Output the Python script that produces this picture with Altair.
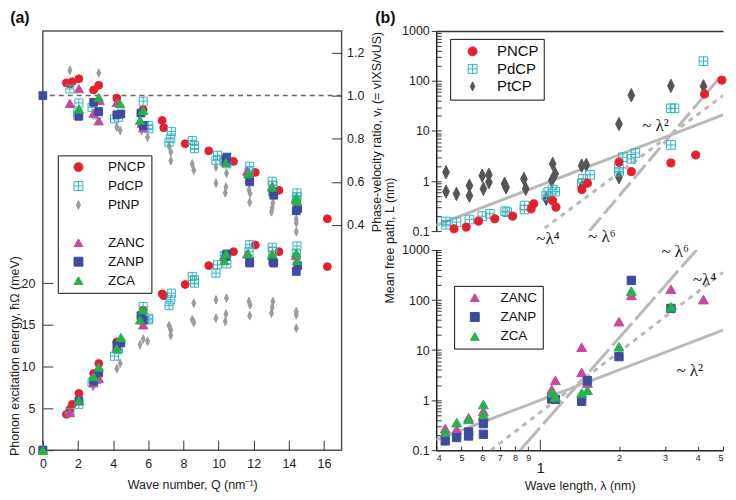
import altair as alt
import pandas as pd

FONT = "Liberation Sans"
SERIF = "Liberation Serif"
INK = "#222222"

# ---------------- panel (a): energy (meV) and phase-velocity ratio vs Q (nm^-1) -------------
pncp_Q = [1.34, 1.54, 1.68, 2.05, 2.89, 3.18, 4.21, 5.71, 6.79, 6.88, 8.10, 9.44, 10.85, 12.09, 13.44, 16.19]
pncp_E = [4.29, 4.89, 5.49, 6.80, 9.18, 10.38, 12.96, 16.7, 18.72, 18.49, 19.84, 22.1, 23.77, 24.57, 23.77, 21.98]
pncp_vr = [1.059, 1.054, 1.065, 1.078, 1.026, 1.048, 0.988, 0.935, 0.885, 0.851, 0.777, 0.744, 0.695, 0.644, 0.561, 0.429]

pdcp_QE = [0, 1.54, 2.05, 2.80, 3.08, 4.08, 4.30, 5.71, 6.00, 6.03, 7.18, 7.28, 7.31, 8.50, 8.63, 8.63,
           9.85, 9.94, 10.32, 10.47, 11.73, 11.77, 13.05, 13.09, 14.42, 14.46]
pdcp_E = [0, 4.5, 5.49, 8.07, 8.47, 11.25, 12.05, 17.2, 15.6, 15.8, 17.3, 18.0, 18.8, 20.8, 20.4, 20.0,
          21.2, 22.2, 23.3, 22.3, 23.8, 24.6, 24.3, 23.8, 23.6, 24.45]
pdcp_Qv = [1.54, 1.99, 1.99, 2.05, 2.80, 3.08, 4.08, 4.30, 5.71, 6.00, 6.03, 7.18, 7.28, 7.31, 8.50, 8.63,
           8.63, 9.85, 9.94, 10.32, 10.47, 11.73, 11.77, 13.05, 13.09, 14.42, 14.46, 14.46]
pdcp_vr = [1.031, 0.920, 0.908, 0.966, 0.946, 0.911, 0.892, 0.900, 0.974, 0.861, 0.846, 0.784, 0.803, 0.834,
           0.792, 0.769, 0.754, 0.700, 0.723, 0.695, 0.684, 0.646, 0.672, 0.603, 0.584, 0.518, 0.549, 0.530]

ptnp_QE = [2.86, 4.21, 4.40, 5.53, 5.71, 5.96, 7.18, 7.28, 7.28, 8.50, 8.59, 8.59, 9.85, 9.85, 10.38, 10.42,
           10.45, 11.73, 11.77, 11.79, 13.01, 13.05, 13.09, 14.42, 14.42, 14.42]
ptnp_E = [7.6, 9.74, 10.4, 12.64, 13.3, 13.04, 14.9, 14.4, 13.75, 15.62, 15.3, 17.6, 15.8, 18.0, 15.4, 16.3,
          18.2, 17.8, 16.1, 17.4, 16.4, 17.1, 17.8, 16.6, 16.2, 14.6]
ptnp_Qv = [1.54, 3.18, 4.21, 4.40, 5.62, 5.96, 7.18, 7.28, 7.28, 8.50, 8.59, 9.85, 9.85, 10.38, 10.42, 10.45,
           11.73, 11.77, 11.79, 13.01, 13.05, 13.09, 14.42, 14.42, 14.42]
ptnp_vr = [1.117, 1.105, 0.854, 0.838, 0.838, 0.807, 0.766, 0.738, 0.698, 0.683, 0.654, 0.669, 0.594, 0.549,
           0.576, 0.640, 0.563, 0.505, 0.546, 0.461, 0.480, 0.503, 0.428, 0.410, 0.369]

zanc_QE = [0, 1.54, 2.05, 2.89, 3.18, 4.21, 5.71, 5.71, 10.32, 10.40, 11.63, 13.05, 14.40]
zanc_E = [0, 4.5, 5.9, 8.07, 8.6, 12.4, 15.0, 15.6, 23.2, 23.5, 23.5, 23.3, 23.3]
zanc_Qv = [1.54, 2.05, 2.89, 3.18, 3.23, 4.21, 5.62, 5.71, 10.40, 11.63, 13.05, 14.40]
zanc_vr = [0.964, 1.032, 0.918, 0.883, 0.977, 0.968, 0.872, 0.851, 0.700, 0.650, 0.580, 0.520]

zanp_Q = [0, 2.05, 2.89, 3.18, 4.21, 4.44, 5.58, 5.71, 10.42, 10.47, 11.77, 11.77, 13.09, 13.14, 14.42, 14.50]
zanp_E = [0, 5.9, 8.27, 9.26, 12.64, 12.84, 16.1, 15.6, 23.2, 23.5, 22.6, 22.4, 22.6, 22.4, 21.4, 22.1]
zanp_vr = [1.0, 0.904, 0.969, 0.926, 0.911, 0.915, 0.919, 0.861, 0.703, 0.715, 0.607, 0.600, 0.553, 0.538,
           0.466, 0.477]

zca_QE = [0, 2.05, 2.89, 3.18, 4.21, 4.44, 5.53, 5.71, 10.32, 10.42, 11.69, 13.05, 14.42, 14.46]
zca_E = [0, 5.96, 8.79, 9.94, 12.16, 13.5, 15.6, 16.8, 22.7, 23.5, 23.5, 23.5, 23.6, 22.7]
zca_Qv = [2.05, 3.18, 4.40, 5.53, 5.71, 10.42, 11.69, 13.05, 14.42, 14.46]
zca_vr = [0.938, 0.992, 0.962, 0.886, 0.931, 0.689, 0.638, 0.576, 0.527, 0.510]

# ---------------- panel (b): mean free path L (nm) vs wavelength (nm) ----------------
pncp_lam = [0.468, 0.521, 0.58, 0.67, 0.784, 0.923, 0.944, 1.115, 1.148, 1.443, 1.515, 2.0, 2.23, 3.16,
            3.93, 4.25, 4.95]
pncp_L = [0.111, 0.12, 0.158, 0.176, 0.199, 0.278, 0.35, 0.407, 0.301, 0.675, 0.906, 2.38, 1.54, 2.3,
          3.32, 54.7, 104]
pdcp_lam = [0.436, 0.436, 0.478, 0.536, 0.6, 0.641, 0.734, 0.747, 0.871, 0.871, 1.054, 1.073, 1.115, 1.14,
            1.443, 1.458, 1.55, 2.0, 2.0, 2.07, 2.23, 2.31, 3.16, 3.16, 3.26, 4.21]
pdcp_L = [0.155, 0.134, 0.151, 0.170, 0.199, 0.221, 0.25, 0.239, 0.324, 0.27, 0.513, 0.6, 0.676, 0.616,
          0.906, 1.1, 1.33, 1.75, 1.54, 2.99, 2.77, 3.64, 5.26, 28.4, 28.4, 249]
ptcp_lam = [0.436, 0.436, 0.478, 0.536, 0.536, 0.6, 0.606, 0.636, 0.636, 0.73, 0.74, 0.866, 0.88, 1.054,
            1.106, 1.116, 1.14, 1.44, 1.44, 1.5, 2.0, 2.0, 2.23, 3.16, 4.21]
ptcp_L = [1.5, 0.616, 0.555, 0.81, 0.51, 1.28, 0.70, 1.33, 0.95, 0.88, 0.75, 1.1, 0.70, 0.44, 1.02, 2.2,
          1.39, 2.03, 0.75, 2.1, 1.19, 13.8, 52, 80, 78]

zanc_lam = [0.433, 0.479, 0.532, 0.606, 0.606, 1.106, 1.143, 1.44, 1.44, 1.515, 2.0, 2.23, 3.16, 4.21]
zanc_L = [0.27, 0.26, 0.445, 0.6, 0.48, 1.62, 2.48, 11.4, 3.58, 2.2, 37.0, 124, 164, 102]
zanp_lam = [0.433, 0.479, 0.532, 0.532, 0.606, 0.606, 1.106, 1.143, 1.44, 1.515, 2.0, 2.23, 3.16]
zanp_L = [0.153, 0.179, 0.192, 0.231, 0.339, 0.208, 1.06, 1.03, 0.95, 2.45, 7.4, 247, 68]
zca_lam = [0.433, 0.479, 0.532, 0.606, 0.606, 1.106, 1.143, 1.44, 1.515, 2.0, 2.23, 3.16]
zca_L = [0.231, 0.355, 0.412, 0.818, 0.518, 1.40, 1.16, 1.39, 1.57, 11.7, 151, 73]

# guide lines (end points)
top_l2 = ([0.4, 5.0], [0.13, 21])
top_l4 = ([1.04, 5.0], [0.115, 51])
top_l6 = ([1.54, 5.0], [0.1, 140])
bot_l2 = ([0.4, 5.0], [0.16, 25])
bot_l4 = ([0.647, 5.0], [0.1, 356])
bot_l6 = ([0.838, 3.96], [0.1, 1000])
top_labels = (["~ λ²", "~λ⁴", "~ λ⁶"], [2.76, 1.07, 1.72], [12.6, 0.07, 0.077])
bot_labels = (["~ λ⁶", "~λ⁴", "~ λ²"], [3.28, 4.25, 3.73], [929, 247, 3.86])
panel_tags = ["(a)", "(b)"]

# ---------------- styles ----------------
BOXPLUS = "M-1,-1H1V1H-1Z M0,-1V1 M-1,0H1"
DIAM_S = "M0,-1L0.45,0L0,1L-0.45,0Z"
DIAM_L = "M0,-1L0.5,0L0,1L-0.5,0Z"
RED, CYAN, GREY, DGREY = "#e5202e", "#35b3bf", "#9b9b9b", "#555555"
MAG, NAVY, GREEN = "#c9489d", "#3f4b9f", "#27b14c"
CLEAR = "rgba(0,0,0,0)"
LINE = "#bdb8b8"

A_DOM = ["PNCP", "PdCP", "PtNP", " ", "ZANC", "ZANP", "ZCA"]
A_FILL = [RED, CLEAR, GREY, CLEAR, MAG, NAVY, GREEN]
A_STROKE = [RED, CYAN, GREY, CLEAR, MAG, NAVY, GREEN]
A_SHAPE = ["circle", BOXPLUS, DIAM_S, "circle", "triangle-up", "square", "triangle-up"]
A_SIZE = {"PNCP": 62, "PdCP": 66, "PtNP": 75, "ZANC": 88, "ZANP": 60, "ZCA": 88}

BT_DOM = ["PNCP", "PdCP", "PtCP"]
BT_FILL = [RED, CLEAR, DGREY]
BT_STROKE = [RED, CYAN, DGREY]
BT_SHAPE = ["circle", BOXPLUS, DIAM_L]
BT_SIZE = {"PNCP": 66, "PdCP": 76, "PtCP": 180}

BB_DOM = ["ZANC", "ZANP", "ZCA"]
BB_FILL = [MAG, NAVY, GREEN]
BB_STROKE = [MAG, NAVY, GREEN]
BB_SHAPE = ["triangle-up", "square", "triangle-up"]
BB_SIZE = {"ZANC": 100, "ZANP": 70, "ZCA": 100}


def long_df(parts, xname, yname, sizes):
    rows = []
    for name, xs, ys in parts:
        for xv, yv in zip(xs, ys):
            rows.append({"series": name, xname: xv, yname: yv, "sz": sizes[name]})
    return pd.DataFrame(rows)


dfA_E = long_df([("PtNP", ptnp_QE, ptnp_E), ("PNCP", pncp_Q, pncp_E), ("PdCP", pdcp_QE, pdcp_E),
                 ("ZANC", zanc_QE, zanc_E), ("ZANP", zanp_Q, zanp_E), ("ZCA", zca_QE, zca_E)],
                "Q", "E", A_SIZE)
dfA_v = long_df([("PtNP", ptnp_Qv, ptnp_vr), ("PNCP", pncp_Q, pncp_vr), ("PdCP", pdcp_Qv, pdcp_vr),
                 ("ZANC", zanc_Qv, zanc_vr), ("ZANP", zanp_Q, zanp_vr), ("ZCA", zca_Qv, zca_vr)],
                "Q", "vr", A_SIZE)
dfBt = long_df([("PtCP", ptcp_lam, ptcp_L), ("PdCP", pdcp_lam, pdcp_L), ("PNCP", pncp_lam, pncp_L)],
               "lam", "L", BT_SIZE)
dfBb = long_df([("ZANC", zanc_lam, zanc_L), ("ZANP", zanp_lam, zanp_L), ("ZCA", zca_lam, zca_L)],
               "lam", "L", BB_SIZE)


def series_enc(dom, fills, strokes, shapes, legend):
    return dict(
        fill=alt.Fill("series:N", scale=alt.Scale(domain=dom, range=fills), legend=legend),
        stroke=alt.Stroke("series:N", scale=alt.Scale(domain=dom, range=strokes), legend=legend),
        shape=alt.Shape("series:N", scale=alt.Scale(domain=dom, range=shapes), legend=legend),
        size=alt.Size("sz:Q", scale=None, legend=None),
    )


def legend(x, y, fs, rp, symoff, laboff):
    return alt.Legend(title=None, orient="none", legendX=x, legendY=y, strokeColor="#111",
                      fillColor="white", padding=5, labelFontSize=fs, labelFont=FONT,
                      labelColor="#111", rowPadding=rp, symbolOffset=symoff, labelOffset=laboff,
                      symbolSize=80, symbolStrokeWidth=1)


def inward(n):
    return {"expr": str(-n)}


def tag(text, dx, dy):
    return alt.Chart(pd.DataFrame({"t": [text]})).mark_text(
        font=FONT, fontSize=16, fontWeight="bold", color="#111", align="center", baseline="middle"
    ).encode(x=alt.value(dx), y=alt.value(dy), text="t:N")


# ---------------- panel (a) ----------------
HA = 421
WA = 300
axA_x = alt.Axis(orient="bottom", values=list(range(0, 17, 2)), title="Wave number, Q (nm⁻¹)",
                 tickSize=inward(10), labelPadding=17, labelFlush=False, domain=False, titlePadding=9)
axA_l = alt.Axis(orient="left", values=[0, 5, 10, 15, 20], title="Phonon excitation energy, ħΩ (meV)",
                 tickSize=inward(10), labelPadding=18, domain=False, titleAngle=270,
                 titleX=-28, titleY=326, titleAlign="center", titleBaseline="middle")
axA_r = alt.Axis(orient="right", values=[0.4, 0.6, 0.8, 1.0, 1.2], format=".1f",
                 title="Phase-velocity ratio, vᵣ (= vIXS/vUS)", tickSize=inward(10), labelPadding=15,
                 domain=False, titleAngle=270, titleX=35, titleY=101, titleAlign="center",
                 titleBaseline="middle")

xA = alt.X("Q:Q", scale=alt.Scale(domain=[0, 17], nice=False, zero=False), axis=axA_x)
yE = alt.Y("E:Q", scale=alt.Scale(domain=[0, 50.2], nice=False), axis=axA_l)
yV = alt.Y("vr:Q", scale=alt.Scale(domain=[-0.644, 1.30], nice=False, zero=False), axis=axA_r)
legA = legend(15, 125, 13.5, 4, 9, 23)

energy = alt.Chart(dfA_E).mark_point(filled=True, opacity=1, strokeWidth=1).encode(
    x=xA, y=yE, **series_enc(A_DOM, A_FILL, A_STROKE, A_SHAPE, legA))
vel_pts = alt.Chart(dfA_v).mark_point(filled=True, opacity=1, strokeWidth=1).encode(
    x=xA, y=yV, **series_enc(A_DOM, A_FILL, A_STROKE, A_SHAPE, legA))
vel_rule = alt.Chart(pd.DataFrame({"vr": [1.0]})).mark_rule(
    color="#666666", strokeDash=[5, 4], strokeWidth=1.5).encode(y=yV)

panelA = alt.layer(energy, alt.layer(vel_rule, vel_pts), tag(panel_tags[0], -23, -13)).resolve_scale(
    y="independent").properties(
    width=WA, height=HA,
    view=alt.ViewBackground(stroke="#555555", strokeWidth=1.5))

# ---------------- panel (b) ----------------
MAJ = [0.1, 1, 10, 100, 1000]
MINOR = [m * d for d in [0.1, 1, 10, 100] for m in range(1, 10)] + [1000]


def y_lab_axis(title=None, **kw):
    return alt.Axis(orient="left", values=MAJ, format="~g", tickSize=5, labelPadding=2, domain=True,
                    domainColor=INK, domainWidth=1.5, title=title, **kw)


y_min_axis = alt.Axis(orient="left", values=MINOR, tickSize=inward(5), labels=False, domain=False,
                      title=None)
x_top_axis = alt.Axis(orient="top", ticks=False, labels=False, domain=True, domainColor="#333",
                      domainWidth=1.5, title=None)
x_lab_axis = alt.Axis(orient="bottom", values=[0.4, 0.5, 0.6, 0.7, 0.8, 0.9, 2, 3, 4, 5],
                      labelExpr="datum.value < 1 ? format(datum.value * 10, 'd') : format(datum.value, 'd')",
                      tickSize=inward(4), labelPadding=7, labelFontSize=9, domain=True, domainColor=INK,
                      domainWidth=1.5, title="Wave length, λ (nm)", titlePadding=17)
x_one_axis = alt.Axis(orient="bottom", values=[1], tickSize=inward(11), labelPadding=21, labelFontSize=15,
                      domain=False, title=None, labelFlush=False)

xsc = alt.Scale(type="log", domain=[0.4, 5], nice=False)
ysc = alt.Scale(type="log", domain=[0.1, 1000], nice=False)


def line(ends, dash, xaxis, yaxis):
    d = pd.DataFrame({"lam": ends[0], "L": ends[1]})
    kw = dict(clip=True, color=LINE, strokeWidth=3)
    if dash:
        kw["strokeDash"] = dash
    return alt.Chart(d).mark_line(**kw).encode(
        x=alt.X("lam:Q", scale=xsc, axis=xaxis), y=alt.Y("L:Q", scale=ysc, axis=yaxis))


def labels(lab):
    d = pd.DataFrame({"t": lab[0], "lam": lab[1], "L": lab[2]})
    return alt.Chart(d).mark_text(font=SERIF, fontSize=17, color="#222").encode(
        x=alt.X("lam:Q", scale=xsc, axis=None), y=alt.Y("L:Q", scale=ysc, axis=None), text="t:N")


def points(df, dom, fills, strokes, shapes, leg):
    return alt.Chart(df).mark_point(filled=True, opacity=1, strokeWidth=1).encode(
        x=alt.X("lam:Q", scale=xsc, axis=None), y=alt.Y("L:Q", scale=ysc, axis=None),
        **series_enc(dom, fills, strokes, shapes, leg))


legBt = legend(14, 8, 15, 1.6, 10, 17)
legBb = legend(18, 36, 13.5, 4.5, 9, 19)

HB = 201
WB = 288
top = alt.layer(
    line(top_l2, None, x_top_axis, y_lab_axis("Mean free path, L (nm)", titleAngle=270, titleX=-47,
                                               titleY=HB + 9, titleAlign="center", titleBaseline="middle")),
    line(top_l4, [5, 5], None, y_min_axis),
    line(top_l6, [18, 5], None, None),
    points(dfBt, BT_DOM, BT_FILL, BT_STROKE, BT_SHAPE, legBt),
    labels(top_labels),
    tag(panel_tags[1], -51, -13),
).resolve_axis(x="independent", y="independent").properties(width=WB, height=HB)

bottom = alt.layer(
    line(bot_l2, None, x_lab_axis, y_lab_axis()),
    line(bot_l4, [5, 5], x_one_axis, y_min_axis),
    line(bot_l6, [30, 5], None, None),
    points(dfBb, BB_DOM, BB_FILL, BB_STROKE, BB_SHAPE, legBb),
    labels(bot_labels),
).resolve_axis(x="independent", y="independent").properties(width=WB, height=HB)

panelB = alt.vconcat(top, bottom, spacing=19, bounds="flush").resolve_scale(
    fill="independent", stroke="independent", shape="independent")

chart = alt.hconcat(panelA, panelB, spacing=95, bounds="flush").resolve_scale(
    fill="independent", stroke="independent", shape="independent").properties(padding=0).configure(
    font=FONT).configure_axis(
    labelFont=FONT, titleFont=FONT, labelColor=INK, titleColor=INK, labelFontSize=12.5,
    titleFontSize=12.5, titleFontWeight="normal", tickColor="#333", tickWidth=1, grid=False
).configure_view(strokeWidth=0)

chart.save("out.html", embed_options={"renderer": "svg", "actions": False})
